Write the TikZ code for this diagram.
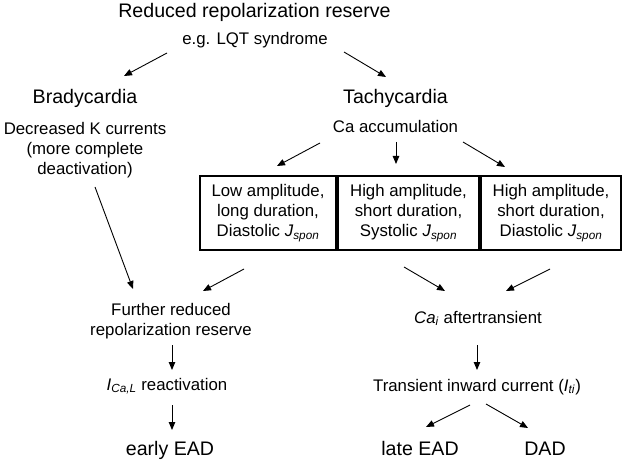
\documentclass[tikz,border=0pt]{standalone}
\usepackage{fontspec}
\setmainfont{Liberation Sans}
\usetikzlibrary{arrows.meta,calc}
\newcommand\bigtxt{\fontsize{19.6pt}{23pt}\selectfont}
\newcommand\medtxt{\fontsize{16.8pt}{20pt}\selectfont}
\newcommand\jspon{\textit{J}\textsubscript{\textit{spon}}}
\begin{document}
\begin{tikzpicture}[x=1pt,y=-1pt,
  big/.style={font=\bigtxt,inner sep=0pt,anchor=base},
  med/.style={font=\medtxt,inner sep=0pt,anchor=base},
  medblock/.style={font=\medtxt,inner sep=0pt,align=center,anchor=center},
  cbox/.style={draw,line width=2pt,font=\medtxt,align=center,inner sep=0pt,outer sep=0pt,minimum height=74pt},
  arr/.style={line width=0.9pt,-{Triangle[length=8pt,width=6.5pt]}}]
\useasboundingbox (0,0) rectangle (626,462);
\node[big] (title) at (254.5,18) {Reduced repolarization reserve};
\node[med] (eg) at (255,45) {e.g. LQT syndrome};
\node[big] (brady) at (85,104) {Bradycardia};
\node[big] (tachy) at (395.5,104) {Tachycardia};
\node[medblock] (kcur) at (85,150) {Decreased K currents\\(more complete\\deactivation)};
\node[med] (ca) at (395.5,133) {Ca accumulation};
\node[cbox,minimum width=136pt] (b1) at (268,213) {Low amplitude,\\long duration,\\Diastolic \jspon};
\node[cbox,minimum width=141pt] (b2) at (408.5,213) {High amplitude,\\short duration,\\Systolic \jspon};
\node[cbox,minimum width=140pt] (b3) at (551,213) {High amplitude,\\short duration,\\Diastolic \jspon};
\node[medblock] (further) at (171,321) {Further reduced\\repolarization reserve};
\node[med] (ical) at (167,390) {\textit{I}\textsubscript{\textit{Ca,L}} reactivation};
\node[big] (early) at (170,455) {early EAD};
\node[med] (cai) at (478,323) {\textit{Ca}\textsubscript{\textit{i}} aftertransient};
\node[med] (trans) at (477,391) {Transient inward current (\textit{I}\textsubscript{\textit{ti}})};
\node[big] (late) at (420,455) {late EAD};
\node[big] (dad) at (545,455) {DAD};
\draw[arr] ($(eg.base)+(-88,8)$) -- ($(brady.base)+(39,-28)$);
\draw[arr] ($(eg.base)+(89,7)$) -- ($(tachy.base)+(-9.5,-27)$);
\draw[arr] ($(ca.base)+(-75.5,10)$) -- ($(b1.north)+(9,-10)$);
\draw[arr] ($(ca.base)+(0.5,9)$) -- ($(ca.base |- b2.north)+(0.5,-12)$);
\draw[arr] ($(ca.base)+(67.5,9)$) -- ($(b3.north)+(-46,-9)$);
\draw[arr] ($(kcur.center)+(10,37)$) -- ($(further.center)+(-38,-32)$);
\draw[arr] ($(b1.south)+(-24,19)$) -- ($(further.center)+(32,-30)$);
\draw[arr] ($(b2.south)+(-4.5,17)$) -- ($(cai.base)+(-33,-32)$);
\draw[arr] ($(b3.south)+(-1,19)$) -- ($(cai.base)+(28,-32)$);
\draw[arr] ($(further.center)+(1,24)$) -- ($(ical.base)+(5,-20)$);
\draw[arr] ($(ical.base)+(5,15)$) -- ($(early.base)+(2,-25)$);
\draw[arr] ($(cai.base)+(-1,22)$) -- ($(trans.base)+(0,-21)$);
\draw[arr] ($(trans.base)+(-7,14)$) -- ($(late.base)+(6,-28)$);
\draw[arr] ($(trans.base)+(9,13)$) -- ($(dad.base)+(-17,-27)$);
\end{tikzpicture}
\end{document}
